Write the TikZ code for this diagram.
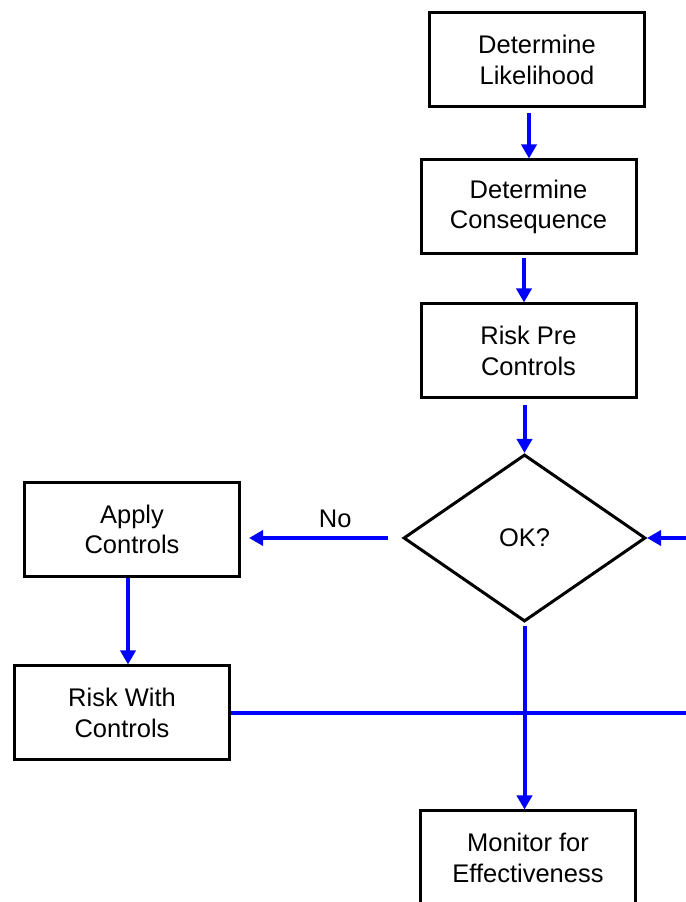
\documentclass[tikz,border=0pt]{standalone}
\usepackage{fontspec}
\setmainfont{Liberation Sans}
\usepackage{tikz}
\usetikzlibrary{shapes.geometric, arrows.meta, positioning}
\definecolor{flowblue}{HTML}{0000FF}

\begin{document}
\begin{tikzpicture}[
  box/.style={rectangle, draw, line width=0.06cm, minimum width=4.3cm, minimum height=1.88cm, align=center, font=\fontsize{14.5}{17.5}\selectfont},
  decision/.style={diamond, draw, line width=0.06cm, minimum width=4.84cm, minimum height=3.34cm, align=center, font=\fontsize{14.5}{17.5}\selectfont},
  arrow/.style={-{Triangle[length=0.28cm, width=0.3cm]}, line width=0.08cm, draw=flowblue},
  lbl/.style={font=\fontsize{14.5}{17.5}\selectfont, text=black}
]
\useasboundingbox (0,0) rectangle (13.72,18.04);

\node[box] (lik) at (10.74,16.84) {Determine\\Likelihood};
\node[box] (con) at (10.57,13.9) {Determine\\Consequence};
\node[box] (pre) at (10.57,11.02) {Risk Pre\\Controls};
\node[decision] (ok) at (10.49,7.28) {OK?};
\node[box] (apply) at (2.64,7.45) {Apply\\Controls};
\node[box] (rwc) at (2.44,3.78) {Risk With\\Controls};
\node[box] (mon) at (10.56,0.88) {Monitor for\\Effectiveness};

\coordinate (loop) at (13.82,0);

\draw[arrow] ([xshift=-0.16cm, yshift=-0.1cm]lik.south) -- ([xshift=-0.16cm]lik.south |- con.north);
\draw[arrow] ([xshift=-0.09cm, yshift=-0.06cm]con.south) -- ([xshift=-0.09cm]pre.north);
\draw[arrow] ([yshift=-0.12cm]pre.south -| ok.north) -- (ok.north);

\draw[arrow] ([xshift=-0.28cm]ok.west) -- node[lbl, pos=0.38, above=0.04cm] {No} ([xshift=0.16cm]apply.east |- ok.west);
\draw[arrow] ([xshift=-0.08cm]apply.south) -- ([xshift=-0.08cm]apply.south |- rwc.north);
\draw[arrow] ([yshift=-0.06cm]ok.south) -- (ok.south |- mon.north);
\draw[arrow] (rwc.east) -- (rwc.east -| loop) |- (ok.east);

\end{tikzpicture}
\end{document}
